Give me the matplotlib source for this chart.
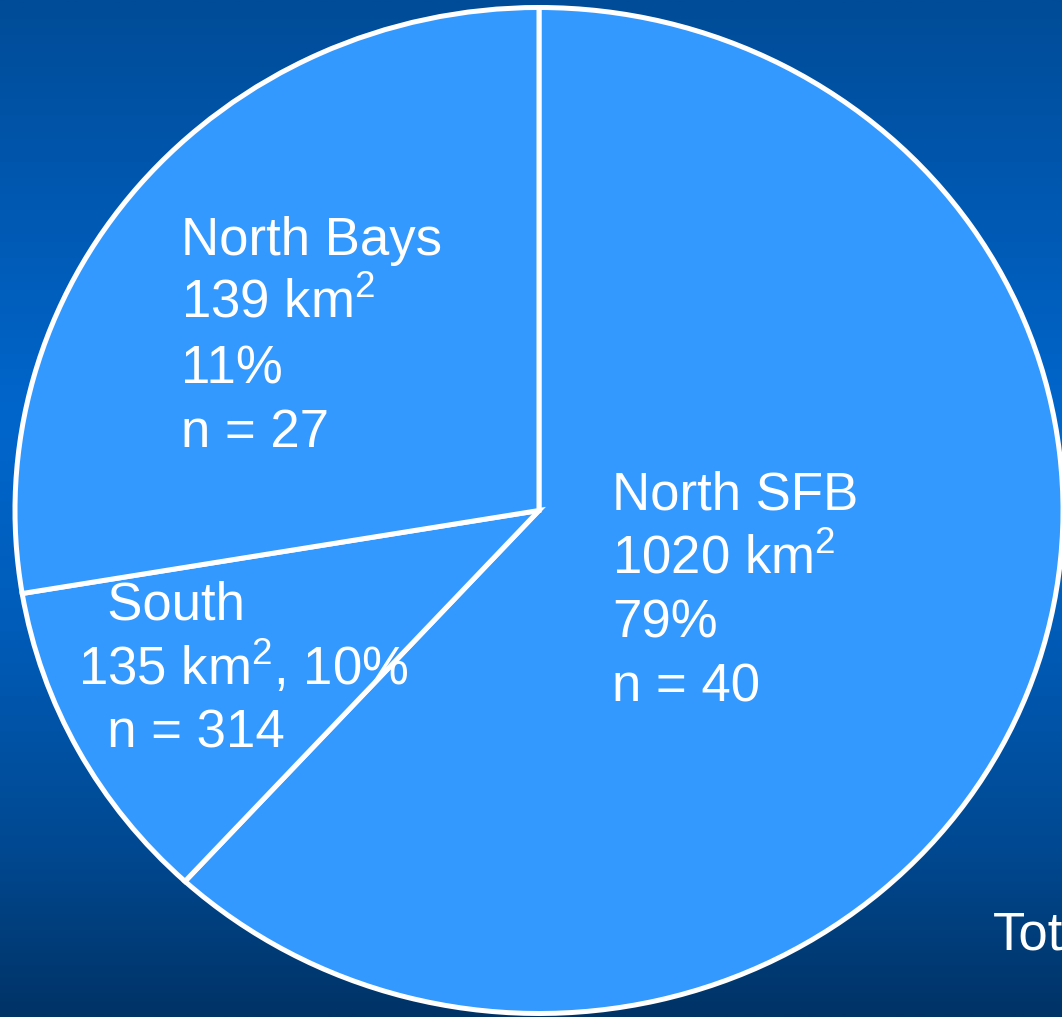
import numpy as np
import matplotlib
matplotlib.use("Agg")
import matplotlib.pyplot as plt
from matplotlib.colors import LinearSegmentedColormap

plt.rcParams["mathtext.fontset"] = "custom"
plt.rcParams["mathtext.rm"] = "Liberation Sans"
plt.rcParams["mathtext.it"] = "Liberation Sans"
plt.rcParams["mathtext.bf"] = "Liberation Sans:bold"

# ---- data ----
regions = ["North SFB", "South", "North Bays"]
areas_km2 = [1020, 135, 139]
percents = [79, 10, 11]
n_sites = [40, 314, 27]
# angular share of each wedge as drawn in the picture (degrees)
wedge_share = [222.5, 38.0, 99.5]
total_label = "Total"

W, H, DPI = 1062, 1017, 100
fig = plt.figure(figsize=(W / DPI, H / DPI), dpi=DPI)

# background gradient
bg = fig.add_axes([0, 0, 1, 1])
bg.set_axis_off()
stops = [(0.0, (0 / 255, 76 / 255, 152 / 255)),
         (0.41, (0 / 255, 102 / 255, 204 / 255)),
         (0.62, (0 / 255, 92 / 255, 184 / 255)),
         (0.84, (0 / 255, 72 / 255, 144 / 255)),
         (1.0, (0 / 255, 51 / 255, 102 / 255))]
cmap = LinearSegmentedColormap.from_list("bg", stops)
grad = np.linspace(0, 1, 512).reshape(-1, 1)
bg.imshow(grad, aspect="auto", cmap=cmap, extent=[0, 1, 0, 1], origin="upper")
bg.set_xlim(0, 1)
bg.set_ylim(0, 1)

# pie axes (elliptical pie)
ax = fig.add_axes([0, 0, 1, 1])
ax.patch.set_alpha(0)
cx, cy_top = 539.0, 510.5
a, b = 524.0, 503.0
cy = H - cy_top
ax.pie(wedge_share, startangle=90, counterclock=False,
       colors=["#3399FF"] * 3,
       wedgeprops=dict(edgecolor="white", linewidth=3.6, joinstyle="miter"))
ax.set_aspect("auto")
ax.set_xlim((0 - cx) / a, (W - cx) / a)
ax.set_ylim((0 - cy) / b, (H - cy) / b)
ax.set_axis_off()

font = dict(family=["Liberation Sans", "DejaVu Sans"], color="white",
            fontsize=38)

SQ = r"km$^{\mathregular{2}}$"


def lines4(i):
    return [regions[i], f"{areas_km2[i]} {SQ}", f"{percents[i]}%",
            f"n = {n_sites[i]}"]


def lines3(i):
    return [f"  {regions[i]}", f"{areas_km2[i]} {SQ}, {percents[i]}%",
            f"  n = {n_sites[i]}"]


def put(px, baselines, lines):
    for py, s in zip(baselines, lines):
        fig.text(px / W, 1 - py / H, s, ha="left", va="baseline", **font)


put(181, [255, 318, 383, 447], lines4(2))
put(612, [510, 573, 638, 702], lines4(0))
put(78, [620, 685, 748], lines3(1))
put(993, [950], [total_label])

fig.savefig("out.png", dpi=DPI)
